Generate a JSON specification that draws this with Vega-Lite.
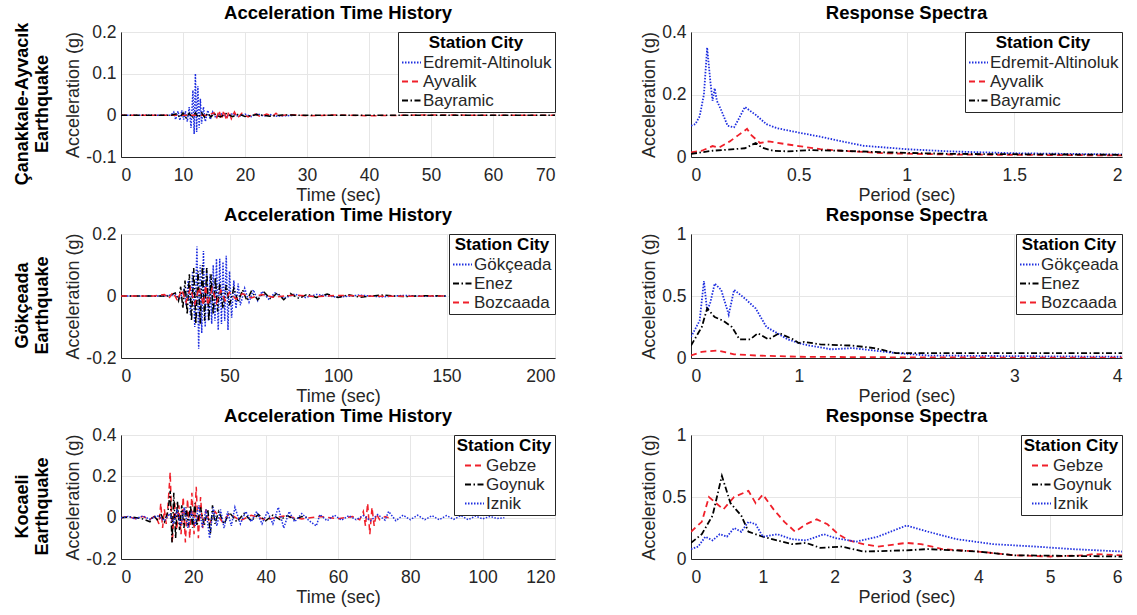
{
"$schema": "https://vega.github.io/schema/vega-lite/v6.json",
"background": "white",
"padding": {"left": 14, "top": 3, "right": 3, "bottom": 1},
"config": {
  "font": "Liberation Sans",
  "view": {"stroke": "#262626", "strokeWidth": 1},
  "axis": {"labelFontSize": 17.5, "titleFontSize": 18, "labelColor": "#262626", "titleColor": "#262626", "titleFontWeight": "normal", "gridColor": "#e6e6e6", "ticks": false, "domainColor": "#262626", "labelPadding": 5, "titlePadding": 3, "labelExpr": "replace(format(datum.value, '~g'), '\u2212', '-')"},
  "axisX": {"labelPadding": 9, "titlePadding": 3},
  "title": {"fontSize": 18.5, "fontWeight": "bold", "color": "black", "offset": 1, "frame": "group"},
  "legend": {"orient": "top-right", "offset": 0, "strokeColor": "#262626", "fillColor": "white", "padding": 3, "titleFontSize": 17, "titleFontWeight": "bold", "titleColor": "black", "labelFontSize": 17, "labelColor": "#262626", "symbolType": "stroke", "symbolSize": 361, "symbolStrokeWidth": 2, "titleAnchor": "middle", "rowPadding": 0, "labelOffset": 1, "cornerRadius": 0, "titlePadding": 0}
},
"datasets": {
"a": [
{"s":"Edremit-Altinoluk","x":0,"y":0},{"s":"Edremit-Altinoluk","x":8,"y":0},{"s":"Edremit-Altinoluk","x":8.5,"y":0.008},{"s":"Edremit-Altinoluk","x":8.8,"y":-0.01},{"s":"Edremit-Altinoluk","x":9.2,"y":0.01},{"s":"Edremit-Altinoluk","x":9.5,"y":-0.012},{"s":"Edremit-Altinoluk","x":9.8,"y":0.012},{"s":"Edremit-Altinoluk","x":10.1,"y":-0.01},{"s":"Edremit-Altinoluk","x":10.4,"y":0.01},{"s":"Edremit-Altinoluk","x":10.7,"y":-0.015},{"s":"Edremit-Altinoluk","x":11.0,"y":0.02},{"s":"Edremit-Altinoluk","x":11.3,"y":-0.03},{"s":"Edremit-Altinoluk","x":11.6,"y":0.06},{"s":"Edremit-Altinoluk","x":11.8,"y":-0.045},{"s":"Edremit-Altinoluk","x":12.0,"y":0.1},{"s":"Edremit-Altinoluk","x":12.2,"y":-0.04},{"s":"Edremit-Altinoluk","x":12.4,"y":0.07},{"s":"Edremit-Altinoluk","x":12.6,"y":-0.03},{"s":"Edremit-Altinoluk","x":12.8,"y":0.04},{"s":"Edremit-Altinoluk","x":13.0,"y":-0.02},{"s":"Edremit-Altinoluk","x":13.3,"y":0.02},{"s":"Edremit-Altinoluk","x":13.6,"y":-0.015},{"s":"Edremit-Altinoluk","x":14,"y":0.012},{"s":"Edremit-Altinoluk","x":14.4,"y":-0.01},{"s":"Edremit-Altinoluk","x":14.8,"y":0.008},{"s":"Edremit-Altinoluk","x":15.3,"y":-0.006},{"s":"Edremit-Altinoluk","x":16,"y":0.005},{"s":"Edremit-Altinoluk","x":17,"y":-0.004},{"s":"Edremit-Altinoluk","x":18,"y":0.004},{"s":"Edremit-Altinoluk","x":19,"y":-0.003},{"s":"Edremit-Altinoluk","x":20,"y":0.003},{"s":"Edremit-Altinoluk","x":21,"y":-0.003},{"s":"Edremit-Altinoluk","x":22,"y":0.004},{"s":"Edremit-Altinoluk","x":23,"y":-0.002},{"s":"Edremit-Altinoluk","x":24,"y":0.002},{"s":"Edremit-Altinoluk","x":25,"y":-0.002},{"s":"Edremit-Altinoluk","x":28,"y":0},
{"s":"Ayvalik","x":0,"y":0},{"s":"Ayvalik","x":14,"y":0},{"s":"Ayvalik","x":15,"y":0.006},{"s":"Ayvalik","x":15.4,"y":-0.008},{"s":"Ayvalik","x":15.8,"y":0.012},{"s":"Ayvalik","x":16.2,"y":-0.01},{"s":"Ayvalik","x":16.6,"y":0.012},{"s":"Ayvalik","x":17,"y":-0.012},{"s":"Ayvalik","x":17.4,"y":0.01},{"s":"Ayvalik","x":17.8,"y":-0.008},{"s":"Ayvalik","x":18.3,"y":0.008},{"s":"Ayvalik","x":18.8,"y":-0.006},{"s":"Ayvalik","x":19.5,"y":0.005},{"s":"Ayvalik","x":20.5,"y":-0.004},{"s":"Ayvalik","x":21.5,"y":0.004},{"s":"Ayvalik","x":22.5,"y":-0.003},{"s":"Ayvalik","x":23.5,"y":0.003},{"s":"Ayvalik","x":24.5,"y":-0.002},{"s":"Ayvalik","x":25,"y":0.005},{"s":"Ayvalik","x":25.5,"y":-0.002},{"s":"Ayvalik","x":27,"y":0.002},{"s":"Ayvalik","x":30,"y":-0.001},{"s":"Ayvalik","x":35,"y":0.001},{"s":"Ayvalik","x":40,"y":-0.001},{"s":"Ayvalik","x":50,"y":0.001},{"s":"Ayvalik","x":60,"y":0},{"s":"Ayvalik","x":70,"y":0},
{"s":"Bayramic","x":0,"y":0},{"s":"Bayramic","x":8,"y":0},{"s":"Bayramic","x":9,"y":0.004},{"s":"Bayramic","x":9.5,"y":-0.005},{"s":"Bayramic","x":10,"y":0.006},{"s":"Bayramic","x":10.5,"y":-0.006},{"s":"Bayramic","x":11,"y":0.005},{"s":"Bayramic","x":11.5,"y":-0.006},{"s":"Bayramic","x":12,"y":0.006},{"s":"Bayramic","x":12.5,"y":-0.005},{"s":"Bayramic","x":13,"y":0.006},{"s":"Bayramic","x":13.5,"y":-0.005},{"s":"Bayramic","x":14,"y":0.005},{"s":"Bayramic","x":14.5,"y":-0.004},{"s":"Bayramic","x":15,"y":0.004},{"s":"Bayramic","x":16,"y":-0.004},{"s":"Bayramic","x":17,"y":0.004},{"s":"Bayramic","x":18,"y":-0.003},{"s":"Bayramic","x":19,"y":0.003},{"s":"Bayramic","x":20,"y":-0.003},{"s":"Bayramic","x":22,"y":0.002},{"s":"Bayramic","x":24,"y":-0.002},{"s":"Bayramic","x":26,"y":0.001},{"s":"Bayramic","x":30,"y":0},{"s":"Bayramic","x":70,"y":0}
],
"b": [
{"s":"Edremit-Altinoluk","x":0,"y":0.1},{"s":"Edremit-Altinoluk","x":0.02,"y":0.105},{"s":"Edremit-Altinoluk","x":0.04,"y":0.13},{"s":"Edremit-Altinoluk","x":0.06,"y":0.2},{"s":"Edremit-Altinoluk","x":0.075,"y":0.35},{"s":"Edremit-Altinoluk","x":0.09,"y":0.24},{"s":"Edremit-Altinoluk","x":0.1,"y":0.18},{"s":"Edremit-Altinoluk","x":0.11,"y":0.22},{"s":"Edremit-Altinoluk","x":0.12,"y":0.18},{"s":"Edremit-Altinoluk","x":0.14,"y":0.15},{"s":"Edremit-Altinoluk","x":0.17,"y":0.1},{"s":"Edremit-Altinoluk","x":0.2,"y":0.095},{"s":"Edremit-Altinoluk","x":0.22,"y":0.12},{"s":"Edremit-Altinoluk","x":0.25,"y":0.16},{"s":"Edremit-Altinoluk","x":0.3,"y":0.135},{"s":"Edremit-Altinoluk","x":0.35,"y":0.105},{"s":"Edremit-Altinoluk","x":0.4,"y":0.092},{"s":"Edremit-Altinoluk","x":0.5,"y":0.078},{"s":"Edremit-Altinoluk","x":0.6,"y":0.065},{"s":"Edremit-Altinoluk","x":0.7,"y":0.05},{"s":"Edremit-Altinoluk","x":0.8,"y":0.036},{"s":"Edremit-Altinoluk","x":1.0,"y":0.025},{"s":"Edremit-Altinoluk","x":1.2,"y":0.018},{"s":"Edremit-Altinoluk","x":1.5,"y":0.012},{"s":"Edremit-Altinoluk","x":2,"y":0.008},
{"s":"Ayvalik","x":0,"y":0.015},{"s":"Ayvalik","x":0.05,"y":0.02},{"s":"Ayvalik","x":0.1,"y":0.035},{"s":"Ayvalik","x":0.13,"y":0.03},{"s":"Ayvalik","x":0.18,"y":0.05},{"s":"Ayvalik","x":0.22,"y":0.07},{"s":"Ayvalik","x":0.26,"y":0.09},{"s":"Ayvalik","x":0.28,"y":0.07},{"s":"Ayvalik","x":0.32,"y":0.045},{"s":"Ayvalik","x":0.36,"y":0.05},{"s":"Ayvalik","x":0.45,"y":0.04},{"s":"Ayvalik","x":0.5,"y":0.035},{"s":"Ayvalik","x":0.6,"y":0.025},{"s":"Ayvalik","x":0.7,"y":0.02},{"s":"Ayvalik","x":0.9,"y":0.012},{"s":"Ayvalik","x":1.2,"y":0.008},{"s":"Ayvalik","x":2,"y":0.005},
{"s":"Bayramic","x":0,"y":0.01},{"s":"Bayramic","x":0.1,"y":0.02},{"s":"Bayramic","x":0.2,"y":0.025},{"s":"Bayramic","x":0.25,"y":0.028},{"s":"Bayramic","x":0.3,"y":0.045},{"s":"Bayramic","x":0.33,"y":0.03},{"s":"Bayramic","x":0.38,"y":0.02},{"s":"Bayramic","x":0.45,"y":0.018},{"s":"Bayramic","x":0.55,"y":0.022},{"s":"Bayramic","x":0.7,"y":0.02},{"s":"Bayramic","x":0.9,"y":0.015},{"s":"Bayramic","x":1.2,"y":0.01},{"s":"Bayramic","x":2,"y":0.007}
],
"c": [
{"s":"Gökçeada","x":0,"y":0},{"s":"Gökçeada","x":20,"y":0},{"s":"Gökçeada","x":25,"y":0.005},{"s":"Gökçeada","x":27,"y":-0.008},{"s":"Gökçeada","x":29,"y":0.02},{"s":"Gökçeada","x":30,"y":-0.03},{"s":"Gökçeada","x":31,"y":0.05},{"s":"Gökçeada","x":32,"y":-0.06},{"s":"Gökçeada","x":33,"y":0.08},{"s":"Gökçeada","x":34,"y":-0.1},{"s":"Gökçeada","x":35,"y":0.16},{"s":"Gökçeada","x":35.8,"y":-0.17},{"s":"Gökçeada","x":36.5,"y":0.1},{"s":"Gökçeada","x":37.2,"y":-0.12},{"s":"Gökçeada","x":38,"y":0.145},{"s":"Gökçeada","x":38.8,"y":-0.1},{"s":"Gökçeada","x":39.5,"y":0.09},{"s":"Gökçeada","x":40.3,"y":-0.08},{"s":"Gökçeada","x":41,"y":0.07},{"s":"Gökçeada","x":41.8,"y":-0.09},{"s":"Gökçeada","x":42.5,"y":0.1},{"s":"Gökçeada","x":43.3,"y":-0.08},{"s":"Gökçeada","x":44,"y":0.12},{"s":"Gökçeada","x":44.8,"y":-0.11},{"s":"Gökçeada","x":45.5,"y":0.12},{"s":"Gökçeada","x":46.3,"y":-0.09},{"s":"Gökçeada","x":47,"y":0.11},{"s":"Gökçeada","x":47.8,"y":-0.08},{"s":"Gökçeada","x":48.5,"y":0.13},{"s":"Gökçeada","x":49.3,"y":-0.11},{"s":"Gökçeada","x":50,"y":0.08},{"s":"Gökçeada","x":51,"y":-0.07},{"s":"Gökçeada","x":52,"y":0.05},{"s":"Gökçeada","x":53,"y":-0.04},{"s":"Gökçeada","x":54,"y":0.04},{"s":"Gökçeada","x":55,"y":-0.03},{"s":"Gökçeada","x":57,"y":0.025},{"s":"Gökçeada","x":59,"y":-0.02},{"s":"Gökçeada","x":61,"y":0.02},{"s":"Gökçeada","x":63,"y":-0.015},{"s":"Gökçeada","x":65,"y":0.015},{"s":"Gökçeada","x":68,"y":-0.01},{"s":"Gökçeada","x":71,"y":0.01},{"s":"Gökçeada","x":75,"y":-0.008},{"s":"Gökçeada","x":80,"y":0.006},{"s":"Gökçeada","x":85,"y":-0.005},{"s":"Gökçeada","x":90,"y":0.005},{"s":"Gökçeada","x":100,"y":-0.004},{"s":"Gökçeada","x":110,"y":0.003},{"s":"Gökçeada","x":120,"y":-0.003},{"s":"Gökçeada","x":130,"y":0.002},{"s":"Gökçeada","x":140,"y":-0.001},{"s":"Gökçeada","x":150,"y":0},
{"s":"Enez","x":0,"y":0},{"s":"Enez","x":22,"y":0},{"s":"Enez","x":25,"y":0.01},{"s":"Enez","x":26.5,"y":-0.015},{"s":"Enez","x":27.5,"y":0.03},{"s":"Enez","x":28.5,"y":-0.04},{"s":"Enez","x":29.5,"y":0.05},{"s":"Enez","x":30.5,"y":-0.06},{"s":"Enez","x":31.5,"y":0.07},{"s":"Enez","x":32.5,"y":-0.08},{"s":"Enez","x":33.5,"y":0.09},{"s":"Enez","x":34.5,"y":-0.09},{"s":"Enez","x":35.5,"y":0.08},{"s":"Enez","x":36.5,"y":-0.09},{"s":"Enez","x":37.5,"y":0.1},{"s":"Enez","x":38.5,"y":-0.08},{"s":"Enez","x":39.5,"y":0.09},{"s":"Enez","x":40.5,"y":-0.08},{"s":"Enez","x":41.5,"y":0.07},{"s":"Enez","x":42.5,"y":-0.06},{"s":"Enez","x":43.5,"y":0.06},{"s":"Enez","x":44.5,"y":-0.05},{"s":"Enez","x":45.5,"y":0.04},{"s":"Enez","x":47,"y":-0.04},{"s":"Enez","x":48.5,"y":0.035},{"s":"Enez","x":50,"y":-0.03},{"s":"Enez","x":52,"y":0.025},{"s":"Enez","x":54,"y":-0.02},{"s":"Enez","x":56,"y":0.02},{"s":"Enez","x":58,"y":-0.015},{"s":"Enez","x":60,"y":0.015},{"s":"Enez","x":63,"y":-0.012},{"s":"Enez","x":66,"y":0.012},{"s":"Enez","x":69,"y":-0.01},{"s":"Enez","x":72,"y":0.01},{"s":"Enez","x":75,"y":-0.012},{"s":"Enez","x":78,"y":0.008},{"s":"Enez","x":82,"y":-0.008},{"s":"Enez","x":86,"y":0.006},{"s":"Enez","x":90,"y":-0.005},{"s":"Enez","x":95,"y":0.006},{"s":"Enez","x":100,"y":-0.005},{"s":"Enez","x":105,"y":0.004},{"s":"Enez","x":110,"y":-0.004},{"s":"Enez","x":120,"y":0.003},{"s":"Enez","x":130,"y":-0.002},{"s":"Enez","x":140,"y":0.001},{"s":"Enez","x":150,"y":0},
{"s":"Bozcaada","x":0,"y":0},{"s":"Bozcaada","x":15,"y":0},{"s":"Bozcaada","x":20,"y":0.005},{"s":"Bozcaada","x":22,"y":-0.008},{"s":"Bozcaada","x":24,"y":0.012},{"s":"Bozcaada","x":26,"y":-0.015},{"s":"Bozcaada","x":28,"y":0.02},{"s":"Bozcaada","x":30,"y":-0.02},{"s":"Bozcaada","x":32,"y":0.025},{"s":"Bozcaada","x":34,"y":-0.025},{"s":"Bozcaada","x":36,"y":0.028},{"s":"Bozcaada","x":38,"y":-0.03},{"s":"Bozcaada","x":39,"y":0.035},{"s":"Bozcaada","x":40,"y":-0.03},{"s":"Bozcaada","x":42,"y":0.025},{"s":"Bozcaada","x":44,"y":-0.022},{"s":"Bozcaada","x":46,"y":0.018},{"s":"Bozcaada","x":48,"y":-0.015},{"s":"Bozcaada","x":50,"y":0.012},{"s":"Bozcaada","x":53,"y":-0.01},{"s":"Bozcaada","x":56,"y":0.008},{"s":"Bozcaada","x":60,"y":-0.006},{"s":"Bozcaada","x":65,"y":0.005},{"s":"Bozcaada","x":70,"y":-0.004},{"s":"Bozcaada","x":80,"y":0.003},{"s":"Bozcaada","x":90,"y":-0.002},{"s":"Bozcaada","x":100,"y":0.002},{"s":"Bozcaada","x":120,"y":-0.001},{"s":"Bozcaada","x":150,"y":0}
],
"d": [
{"s":"Gökçeada","x":0,"y":0.17},{"s":"Gökçeada","x":0.08,"y":0.3},{"s":"Gökçeada","x":0.12,"y":0.62},{"s":"Gökçeada","x":0.15,"y":0.38},{"s":"Gökçeada","x":0.18,"y":0.45},{"s":"Gökçeada","x":0.22,"y":0.6},{"s":"Gökçeada","x":0.28,"y":0.55},{"s":"Gökçeada","x":0.35,"y":0.35},{"s":"Gökçeada","x":0.4,"y":0.55},{"s":"Gökçeada","x":0.5,"y":0.48},{"s":"Gökçeada","x":0.6,"y":0.4},{"s":"Gökçeada","x":0.7,"y":0.25},{"s":"Gökçeada","x":0.8,"y":0.2},{"s":"Gökçeada","x":0.9,"y":0.15},{"s":"Gökçeada","x":1.0,"y":0.12},{"s":"Gökçeada","x":1.1,"y":0.1},{"s":"Gökçeada","x":1.3,"y":0.07},{"s":"Gökçeada","x":1.5,"y":0.08},{"s":"Gökçeada","x":1.7,"y":0.06},{"s":"Gökçeada","x":1.9,"y":0.04},{"s":"Gökçeada","x":2.2,"y":0.02},{"s":"Gökçeada","x":3,"y":0.015},{"s":"Gökçeada","x":4,"y":0.01},
{"s":"Enez","x":0,"y":0.1},{"s":"Enez","x":0.1,"y":0.25},{"s":"Enez","x":0.15,"y":0.4},{"s":"Enez","x":0.22,"y":0.33},{"s":"Enez","x":0.3,"y":0.3},{"s":"Enez","x":0.38,"y":0.25},{"s":"Enez","x":0.45,"y":0.15},{"s":"Enez","x":0.55,"y":0.15},{"s":"Enez","x":0.62,"y":0.2},{"s":"Enez","x":0.72,"y":0.15},{"s":"Enez","x":0.82,"y":0.2},{"s":"Enez","x":0.95,"y":0.15},{"s":"Enez","x":1.0,"y":0.12},{"s":"Enez","x":1.05,"y":0.13},{"s":"Enez","x":1.2,"y":0.11},{"s":"Enez","x":1.5,"y":0.1},{"s":"Enez","x":1.7,"y":0.08},{"s":"Enez","x":1.9,"y":0.04},{"s":"Enez","x":2.5,"y":0.04},{"s":"Enez","x":4,"y":0.04},
{"s":"Bozcaada","x":0,"y":0.02},{"s":"Bozcaada","x":0.1,"y":0.05},{"s":"Bozcaada","x":0.25,"y":0.06},{"s":"Bozcaada","x":0.4,"y":0.03},{"s":"Bozcaada","x":0.6,"y":0.02},{"s":"Bozcaada","x":1,"y":0.01},{"s":"Bozcaada","x":2,"y":0.005},{"s":"Bozcaada","x":4,"y":0.002}
],
"e": [
{"s":"Gebze","x":0,"y":0},{"s":"Gebze","x":2,"y":0.005},{"s":"Gebze","x":4,"y":-0.005},{"s":"Gebze","x":6,"y":0.006},{"s":"Gebze","x":8,"y":-0.008},{"s":"Gebze","x":9.5,"y":0.01},{"s":"Gebze","x":10.5,"y":-0.03},{"s":"Gebze","x":11,"y":0.07},{"s":"Gebze","x":11.5,"y":-0.05},{"s":"Gebze","x":12,"y":0.04},{"s":"Gebze","x":12.5,"y":-0.03},{"s":"Gebze","x":13,"y":0.06},{"s":"Gebze","x":13.6,"y":0.22},{"s":"Gebze","x":14.2,"y":-0.12},{"s":"Gebze","x":14.8,"y":0.08},{"s":"Gebze","x":15.4,"y":-0.06},{"s":"Gebze","x":16,"y":0.06},{"s":"Gebze","x":16.6,"y":-0.08},{"s":"Gebze","x":17.2,"y":0.1},{"s":"Gebze","x":17.8,"y":-0.12},{"s":"Gebze","x":18.4,"y":0.09},{"s":"Gebze","x":19,"y":-0.1},{"s":"Gebze","x":19.6,"y":0.12},{"s":"Gebze","x":20.2,"y":-0.08},{"s":"Gebze","x":20.8,"y":0.15},{"s":"Gebze","x":21.4,"y":-0.1},{"s":"Gebze","x":22,"y":0.1},{"s":"Gebze","x":22.6,"y":-0.05},{"s":"Gebze","x":23.5,"y":0.04},{"s":"Gebze","x":24.5,"y":-0.03},{"s":"Gebze","x":26,"y":0.03},{"s":"Gebze","x":28,"y":-0.02},{"s":"Gebze","x":30,"y":0.02},{"s":"Gebze","x":33,"y":-0.015},{"s":"Gebze","x":36,"y":0.012},{"s":"Gebze","x":40,"y":-0.01},{"s":"Gebze","x":45,"y":0.008},{"s":"Gebze","x":50,"y":-0.006},{"s":"Gebze","x":55,"y":0.006},{"s":"Gebze","x":60,"y":-0.005},{"s":"Gebze","x":64,"y":0.005},{"s":"Gebze","x":66,"y":-0.01},{"s":"Gebze","x":67,"y":0.03},{"s":"Gebze","x":67.6,"y":-0.04},{"s":"Gebze","x":68.2,"y":0.07},{"s":"Gebze","x":68.8,"y":-0.08},{"s":"Gebze","x":69.4,"y":0.05},{"s":"Gebze","x":70,"y":-0.04},{"s":"Gebze","x":70.6,"y":0.02},{"s":"Gebze","x":71.5,"y":-0.01},{"s":"Gebze","x":73,"y":0.005},{"s":"Gebze","x":74,"y":0},
{"s":"Goynuk","x":0,"y":0},{"s":"Goynuk","x":3,"y":0.004},{"s":"Goynuk","x":6,"y":-0.006},{"s":"Goynuk","x":8,"y":-0.02},{"s":"Goynuk","x":9,"y":0.01},{"s":"Goynuk","x":10,"y":-0.01},{"s":"Goynuk","x":11,"y":0.02},{"s":"Goynuk","x":12,"y":-0.02},{"s":"Goynuk","x":13,"y":0.03},{"s":"Goynuk","x":13.6,"y":0.13},{"s":"Goynuk","x":14.1,"y":-0.12},{"s":"Goynuk","x":14.6,"y":0.12},{"s":"Goynuk","x":15.1,"y":-0.1},{"s":"Goynuk","x":15.6,"y":0.08},{"s":"Goynuk","x":16.2,"y":-0.06},{"s":"Goynuk","x":16.8,"y":0.06},{"s":"Goynuk","x":17.4,"y":-0.05},{"s":"Goynuk","x":18,"y":0.05},{"s":"Goynuk","x":18.6,"y":-0.04},{"s":"Goynuk","x":19.2,"y":0.06},{"s":"Goynuk","x":19.8,"y":-0.05},{"s":"Goynuk","x":20.4,"y":0.07},{"s":"Goynuk","x":21,"y":-0.04},{"s":"Goynuk","x":22,"y":0.05},{"s":"Goynuk","x":23,"y":-0.04},{"s":"Goynuk","x":24,"y":0.04},{"s":"Goynuk","x":24.7,"y":-0.08},{"s":"Goynuk","x":25.3,"y":0.06},{"s":"Goynuk","x":26,"y":-0.03},{"s":"Goynuk","x":27,"y":0.03},{"s":"Goynuk","x":28.5,"y":-0.03},{"s":"Goynuk","x":30,"y":0.025},{"s":"Goynuk","x":32,"y":-0.02},{"s":"Goynuk","x":34,"y":0.02},{"s":"Goynuk","x":36,"y":-0.015},{"s":"Goynuk","x":38,"y":0.015},{"s":"Goynuk","x":40,"y":-0.015},{"s":"Goynuk","x":42,"y":0.012},{"s":"Goynuk","x":44,"y":-0.01},{"s":"Goynuk","x":46,"y":0.01},{"s":"Goynuk","x":48,"y":-0.008},{"s":"Goynuk","x":50,"y":0.005},{"s":"Goynuk","x":52,"y":0},
{"s":"Iznik","x":0,"y":0},{"s":"Iznik","x":2,"y":0.006},{"s":"Iznik","x":4,"y":-0.006},{"s":"Iznik","x":6,"y":0.008},{"s":"Iznik","x":8,"y":-0.008},{"s":"Iznik","x":10,"y":0.01},{"s":"Iznik","x":12,"y":-0.015},{"s":"Iznik","x":13.5,"y":0.02},{"s":"Iznik","x":14.5,"y":-0.03},{"s":"Iznik","x":15.5,"y":0.04},{"s":"Iznik","x":16.5,"y":-0.04},{"s":"Iznik","x":17.5,"y":0.05},{"s":"Iznik","x":18.5,"y":-0.05},{"s":"Iznik","x":19.5,"y":0.03},{"s":"Iznik","x":20.5,"y":-0.04},{"s":"Iznik","x":21.5,"y":0.06},{"s":"Iznik","x":22.5,"y":-0.05},{"s":"Iznik","x":23.5,"y":0.04},{"s":"Iznik","x":24.5,"y":-0.1},{"s":"Iznik","x":25.5,"y":0.05},{"s":"Iznik","x":26.5,"y":-0.04},{"s":"Iznik","x":27.5,"y":0.04},{"s":"Iznik","x":28.5,"y":-0.05},{"s":"Iznik","x":29.5,"y":0.03},{"s":"Iznik","x":30.5,"y":-0.04},{"s":"Iznik","x":31.5,"y":0.05},{"s":"Iznik","x":33,"y":-0.03},{"s":"Iznik","x":34.5,"y":0.03},{"s":"Iznik","x":36,"y":-0.02},{"s":"Iznik","x":37.5,"y":0.03},{"s":"Iznik","x":39,"y":-0.03},{"s":"Iznik","x":40.5,"y":0.03},{"s":"Iznik","x":42,"y":-0.03},{"s":"Iznik","x":43.5,"y":0.05},{"s":"Iznik","x":45,"y":-0.05},{"s":"Iznik","x":46.5,"y":0.03},{"s":"Iznik","x":48,"y":-0.02},{"s":"Iznik","x":50,"y":0.02},{"s":"Iznik","x":52,"y":-0.015},{"s":"Iznik","x":54,"y":-0.04},{"s":"Iznik","x":55,"y":0.015},{"s":"Iznik","x":57,"y":-0.015},{"s":"Iznik","x":59,"y":0.012},{"s":"Iznik","x":61,"y":-0.012},{"s":"Iznik","x":63,"y":0.01},{"s":"Iznik","x":65,"y":-0.01},{"s":"Iznik","x":67,"y":0.01},{"s":"Iznik","x":69,"y":-0.015},{"s":"Iznik","x":71,"y":0.015},{"s":"Iznik","x":73,"y":-0.012},{"s":"Iznik","x":74,"y":0.03},{"s":"Iznik","x":76,"y":-0.015},{"s":"Iznik","x":78,"y":0.012},{"s":"Iznik","x":80,"y":-0.01},{"s":"Iznik","x":82,"y":0.012},{"s":"Iznik","x":84,"y":-0.01},{"s":"Iznik","x":86,"y":0.01},{"s":"Iznik","x":88,"y":-0.01},{"s":"Iznik","x":90,"y":0.01},{"s":"Iznik","x":92,"y":-0.008},{"s":"Iznik","x":94,"y":0.01},{"s":"Iznik","x":96,"y":-0.01},{"s":"Iznik","x":98,"y":0.008},{"s":"Iznik","x":100,"y":-0.006},{"s":"Iznik","x":102,"y":0.006},{"s":"Iznik","x":104,"y":-0.004},{"s":"Iznik","x":106,"y":0}
],
"f": [
{"s":"Gebze","x":0,"y":0.22},{"s":"Gebze","x":0.15,"y":0.3},{"s":"Gebze","x":0.25,"y":0.5},{"s":"Gebze","x":0.35,"y":0.45},{"s":"Gebze","x":0.45,"y":0.4},{"s":"Gebze","x":0.6,"y":0.5},{"s":"Gebze","x":0.8,"y":0.55},{"s":"Gebze","x":0.9,"y":0.45},{"s":"Gebze","x":1.0,"y":0.52},{"s":"Gebze","x":1.15,"y":0.4},{"s":"Gebze","x":1.3,"y":0.3},{"s":"Gebze","x":1.45,"y":0.22},{"s":"Gebze","x":1.6,"y":0.28},{"s":"Gebze","x":1.75,"y":0.32},{"s":"Gebze","x":1.9,"y":0.28},{"s":"Gebze","x":2.05,"y":0.2},{"s":"Gebze","x":2.2,"y":0.15},{"s":"Gebze","x":2.4,"y":0.12},{"s":"Gebze","x":2.6,"y":0.1},{"s":"Gebze","x":3.0,"y":0.13},{"s":"Gebze","x":3.2,"y":0.12},{"s":"Gebze","x":3.5,"y":0.08},{"s":"Gebze","x":4,"y":0.06},{"s":"Gebze","x":4.5,"y":0.03},{"s":"Gebze","x":5,"y":0.02},{"s":"Gebze","x":5.5,"y":0.03},{"s":"Gebze","x":5.6,"y":0.04},{"s":"Gebze","x":6,"y":0.03},
{"s":"Goynuk","x":0,"y":0.13},{"s":"Goynuk","x":0.15,"y":0.2},{"s":"Goynuk","x":0.3,"y":0.35},{"s":"Goynuk","x":0.43,"y":0.67},{"s":"Goynuk","x":0.55,"y":0.45},{"s":"Goynuk","x":0.7,"y":0.35},{"s":"Goynuk","x":0.8,"y":0.22},{"s":"Goynuk","x":1.0,"y":0.18},{"s":"Goynuk","x":1.2,"y":0.15},{"s":"Goynuk","x":1.4,"y":0.12},{"s":"Goynuk","x":1.6,"y":0.13},{"s":"Goynuk","x":1.8,"y":0.09},{"s":"Goynuk","x":2.1,"y":0.1},{"s":"Goynuk","x":2.4,"y":0.06},{"s":"Goynuk","x":3.0,"y":0.07},{"s":"Goynuk","x":3.3,"y":0.08},{"s":"Goynuk","x":4,"y":0.06},{"s":"Goynuk","x":4.5,"y":0.03},{"s":"Goynuk","x":6,"y":0.02},
{"s":"Iznik","x":0,"y":0.08},{"s":"Iznik","x":0.1,"y":0.1},{"s":"Iznik","x":0.2,"y":0.18},{"s":"Iznik","x":0.3,"y":0.15},{"s":"Iznik","x":0.4,"y":0.2},{"s":"Iznik","x":0.5,"y":0.18},{"s":"Iznik","x":0.6,"y":0.25},{"s":"Iznik","x":0.7,"y":0.22},{"s":"Iznik","x":0.8,"y":0.3},{"s":"Iznik","x":0.9,"y":0.28},{"s":"Iznik","x":1.0,"y":0.18},{"s":"Iznik","x":1.2,"y":0.2},{"s":"Iznik","x":1.4,"y":0.16},{"s":"Iznik","x":1.6,"y":0.15},{"s":"Iznik","x":1.85,"y":0.2},{"s":"Iznik","x":2.0,"y":0.17},{"s":"Iznik","x":2.3,"y":0.14},{"s":"Iznik","x":2.6,"y":0.18},{"s":"Iznik","x":3.0,"y":0.27},{"s":"Iznik","x":3.3,"y":0.22},{"s":"Iznik","x":3.7,"y":0.16},{"s":"Iznik","x":4.2,"y":0.12},{"s":"Iznik","x":4.8,"y":0.1},{"s":"Iznik","x":5.3,"y":0.08},{"s":"Iznik","x":6,"y":0.06}
]
},
"spacing": 0,
"resolve": {"scale": {"color": "independent", "strokeDash": "independent"}},
"vconcat": [
{
 "title": {"text": ["Çanakkale-Ayvacık", "Earthquake"], "orient": "left", "anchor": "middle", "fontSize": 18, "fontWeight": "bold", "color": "black", "offset": 12, "frame": "bounds"},
 "spacing": 84,
 "resolve": {"scale": {"color": "independent", "strokeDash": "independent"}},
 "hconcat": [
  {"title": "Acceleration Time History", "width": 434, "height": 125, "data": {"name": "a"}, "mark": {"type": "line", "strokeWidth": 1.5, "clip": true},
   "encoding": {
    "x": {"field": "x", "type": "quantitative", "scale": {"domain": [0, 70], "nice": false}, "axis": {"values": [0,10,20,30,40,50,60,70], "title": "Time (sec)"}},
    "y": {"field": "y", "type": "quantitative", "scale": {"domain": [-0.1, 0.2], "nice": false}, "axis": {"values": [-0.1,0,0.1,0.2], "title": "Acceleration (g)"}},
    "color": {"field": "s", "type": "nominal", "scale": {"domain": ["Edremit-Altinoluk","Ayvalik","Bayramic"], "range": ["#1f2fe0","#f0202a","#000000"]}, "legend": {"title": "Station City"}},
    "strokeDash": {"field": "s", "type": "nominal", "scale": {"domain": ["Edremit-Altinoluk","Ayvalik","Bayramic"], "range": [[1.5,1.5],[6,4],[6,2.5,1.5,2.5]]}, "legend": {"title": "Station City"}}
   }},
  {"title": "Response Spectra", "width": 431, "height": 125, "data": {"name": "b"}, "mark": {"type": "line", "strokeWidth": 1.8, "clip": true},
   "encoding": {
    "x": {"field": "x", "type": "quantitative", "scale": {"domain": [0, 2], "nice": false}, "axis": {"values": [0,0.5,1,1.5,2], "title": "Period (sec)"}},
    "y": {"field": "y", "type": "quantitative", "scale": {"domain": [0, 0.4], "nice": false}, "axis": {"values": [0,0.2,0.4], "title": "Acceleration (g)"}},
    "color": {"field": "s", "type": "nominal", "scale": {"domain": ["Edremit-Altinoluk","Ayvalik","Bayramic"], "range": ["#1f2fe0","#f0202a","#000000"]}, "legend": {"title": "Station City"}},
    "strokeDash": {"field": "s", "type": "nominal", "scale": {"domain": ["Edremit-Altinoluk","Ayvalik","Bayramic"], "range": [[1.5,1.5],[6,4],[6,2.5,1.5,2.5]]}, "legend": {"title": "Station City"}}
   }}
 ]
},
{
 "title": {"text": ["Gökçeada", "Earthquake"], "orient": "left", "anchor": "middle", "fontSize": 18, "fontWeight": "bold", "color": "black", "offset": 12, "frame": "bounds"},
 "spacing": 84,
 "resolve": {"scale": {"color": "independent", "strokeDash": "independent"}},
 "hconcat": [
  {"title": "Acceleration Time History", "width": 434, "height": 124, "data": {"name": "c"}, "mark": {"type": "line", "strokeWidth": 1.5, "clip": true},
   "encoding": {
    "x": {"field": "x", "type": "quantitative", "scale": {"domain": [0, 200], "nice": false}, "axis": {"values": [0,50,100,150,200], "title": "Time (sec)"}},
    "y": {"field": "y", "type": "quantitative", "scale": {"domain": [-0.2, 0.2], "nice": false}, "axis": {"values": [-0.2,0,0.2], "title": "Acceleration (g)"}},
    "color": {"field": "s", "type": "nominal", "scale": {"domain": ["Gökçeada","Enez","Bozcaada"], "range": ["#1f2fe0","#000000","#f0202a"]}, "legend": {"title": "Station City"}},
    "strokeDash": {"field": "s", "type": "nominal", "scale": {"domain": ["Gökçeada","Enez","Bozcaada"], "range": [[1.5,1.5],[6,2.5,1.5,2.5],[6,4]]}, "legend": {"title": "Station City"}}
   }},
  {"title": "Response Spectra", "width": 431, "height": 124, "data": {"name": "d"}, "mark": {"type": "line", "strokeWidth": 1.8, "clip": true},
   "encoding": {
    "x": {"field": "x", "type": "quantitative", "scale": {"domain": [0, 4], "nice": false}, "axis": {"values": [0,1,2,3,4], "title": "Period (sec)"}},
    "y": {"field": "y", "type": "quantitative", "scale": {"domain": [0, 1], "nice": false}, "axis": {"values": [0,0.5,1], "title": "Acceleration (g)"}},
    "color": {"field": "s", "type": "nominal", "scale": {"domain": ["Gökçeada","Enez","Bozcaada"], "range": ["#1f2fe0","#000000","#f0202a"]}, "legend": {"title": "Station City"}},
    "strokeDash": {"field": "s", "type": "nominal", "scale": {"domain": ["Gökçeada","Enez","Bozcaada"], "range": [[1.5,1.5],[6,2.5,1.5,2.5],[6,4]]}, "legend": {"title": "Station City"}}
   }}
 ]
},
{
 "title": {"text": ["Kocaeli", "Earthquake"], "orient": "left", "anchor": "middle", "fontSize": 18, "fontWeight": "bold", "color": "black", "offset": 12, "frame": "bounds"},
 "spacing": 84,
 "resolve": {"scale": {"color": "independent", "strokeDash": "independent"}},
 "hconcat": [
  {"title": "Acceleration Time History", "width": 434, "height": 124, "data": {"name": "e"}, "mark": {"type": "line", "strokeWidth": 1.5, "clip": true},
   "encoding": {
    "x": {"field": "x", "type": "quantitative", "scale": {"domain": [0, 120], "nice": false}, "axis": {"values": [0,20,40,60,80,100,120], "title": "Time (sec)"}},
    "y": {"field": "y", "type": "quantitative", "scale": {"domain": [-0.2, 0.4], "nice": false}, "axis": {"values": [-0.2,0,0.2,0.4], "title": "Acceleration (g)"}},
    "color": {"field": "s", "type": "nominal", "scale": {"domain": ["Gebze","Goynuk","Iznik"], "range": ["#f0202a","#000000","#1f2fe0"]}, "legend": {"title": "Station City"}},
    "strokeDash": {"field": "s", "type": "nominal", "scale": {"domain": ["Gebze","Goynuk","Iznik"], "range": [[6,4],[6,2.5,1.5,2.5],[1.5,1.5]]}, "legend": {"title": "Station City"}}
   }},
  {"title": "Response Spectra", "width": 431, "height": 124, "data": {"name": "f"}, "mark": {"type": "line", "strokeWidth": 1.8, "clip": true},
   "encoding": {
    "x": {"field": "x", "type": "quantitative", "scale": {"domain": [0, 6], "nice": false}, "axis": {"values": [0,1,2,3,4,5,6], "title": "Period (sec)"}},
    "y": {"field": "y", "type": "quantitative", "scale": {"domain": [0, 1], "nice": false}, "axis": {"values": [0,0.5,1], "title": "Acceleration (g)"}},
    "color": {"field": "s", "type": "nominal", "scale": {"domain": ["Gebze","Goynuk","Iznik"], "range": ["#f0202a","#000000","#1f2fe0"]}, "legend": {"title": "Station City"}},
    "strokeDash": {"field": "s", "type": "nominal", "scale": {"domain": ["Gebze","Goynuk","Iznik"], "range": [[6,4],[6,2.5,1.5,2.5],[1.5,1.5]]}, "legend": {"title": "Station City"}}
   }}
 ]
}
]
}
